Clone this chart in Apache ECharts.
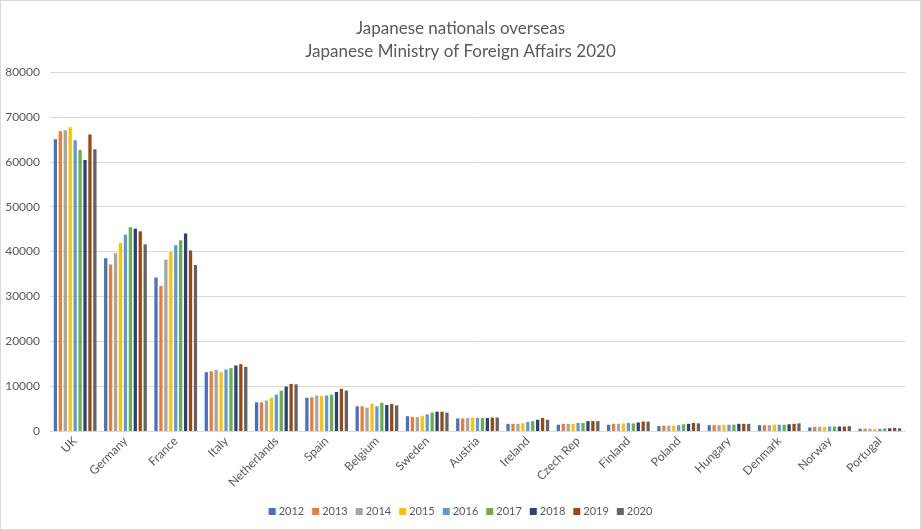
<!DOCTYPE html>
<html>
<head>
<meta charset="utf-8">
<script src="https://cdn.jsdelivr.net/npm/echarts@6/dist/echarts.min.js"></script>
<style>
  html, body { margin: 0; padding: 0; background: #fff; }
  #wrap { width: 921px; height: 530px; box-sizing: border-box; border: 1px solid #d9d9d9; }
  #main { width: 919px; height: 528px; }
</style>
</head>
<body>
<div id="wrap"><div id="main"></div></div>
<script>
// years (series) and countries (categories)
var years = ['2012', '2013', '2014', '2015', '2016', '2017', '2018', '2019', '2020']
var countries = ['UK', 'Germany', 'France', 'Italy', 'Netherlands', 'Spain', 'Belgium', 'Sweden', 'Austria',
  'Ireland', 'Czech Rep', 'Finland', 'Poland', 'Hungary', 'Denmark', 'Norway', 'Portugal']

// values per country, 2012 -> 2020
var uk = [65000, 66800, 67000, 67700, 64800, 62600, 60400, 66100, 62800]
var germany = [38500, 37100, 39600, 41900, 43800, 45400, 45100, 44500, 41600]
var france = [34200, 32300, 38200, 39900, 41400, 42500, 44000, 40200, 37000]
var italy = [13100, 13300, 13600, 13100, 13700, 14000, 14600, 14900, 14300]
var netherlands = [6400, 6400, 6800, 7400, 8100, 9000, 9900, 10500, 10400]
var spain = [7400, 7500, 7900, 7800, 7900, 8100, 8700, 9400, 9000]
var belgium = [5500, 5500, 5200, 6100, 5500, 6300, 5800, 6000, 5700]
var sweden = [3300, 3100, 3100, 3400, 3700, 4100, 4300, 4300, 4100]
var austria = [2800, 2800, 2900, 3000, 2900, 2900, 2900, 3000, 3000]
var ireland = [1600, 1600, 1600, 1700, 2000, 2200, 2500, 2900, 2500]
var czech = [1400, 1600, 1600, 1600, 1800, 1800, 2200, 2200, 2200]
var finland = [1400, 1600, 1600, 1700, 1800, 1700, 1900, 2100, 2100]
var poland = [1100, 1200, 1200, 1200, 1300, 1500, 1600, 1800, 1700]
var hungary = [1300, 1300, 1300, 1300, 1400, 1400, 1600, 1600, 1600]
var denmark = [1300, 1300, 1300, 1400, 1400, 1400, 1500, 1600, 1700]
var norway = [800, 900, 900, 900, 1000, 1000, 1000, 1000, 1100]
var portugal = [500, 500, 500, 500, 500, 600, 600, 700, 600]

var byCountry = [uk, germany, france, italy, netherlands, spain, belgium, sweden, austria,
  ireland, czech, finland, poland, hungary, denmark, norway, portugal]

var colorList = ['#4472C4', '#ED7D31', '#A5A5A5', '#FFC000', '#5B9BD5', '#70AD47', '#264478', '#9E480E', '#636363']
var font = 'Lato, "Open Sans", sans-serif'

var myChart = echarts.init(document.getElementById('main'))
myChart.setOption({
  animation: false,
  color: colorList,
  title: {
    text: 'Japanese nationals overseas\nJapanese Ministry of Foreign Affairs 2020',
    left: 'center',
    top: 11,
    textStyle: {
      fontFamily: font,
      fontSize: 17,
      fontWeight: 'normal',
      color: '#595959',
      lineHeight: 23
    }
  },
  legend: {
    bottom: 7,
    left: 'center',
    itemWidth: 7,
    itemHeight: 7,
    itemGap: 8,
    icon: 'rect',
    textStyle: { fontFamily: font, fontSize: 11, color: '#595959', padding: [0, 0, 0, -2] },
    data: years
  },
  grid: {
    left: 49,
    right: 15,
    top: 71,
    bottom: 98
  },
  xAxis: {
    type: 'category',
    data: countries,
    axisLine: { lineStyle: { color: '#d9d9d9' } },
    axisTick: { show: false },
    axisLabel: {
      rotate: 45,
      interval: 0,
      margin: 8,
      fontFamily: font,
      fontSize: 12,
      color: '#595959'
    }
  },
  yAxis: {
    type: 'value',
    min: 0,
    max: 80000,
    interval: 10000,
    axisLine: { show: false },
    axisTick: { show: false },
    splitLine: { lineStyle: { color: '#d9d9d9' } },
    axisLabel: {
      margin: 10,
      fontFamily: font,
      fontSize: 12,
      color: '#595959',
      formatter: function (v) { return String(v) }
    }
  },
  series: years.map(function (y, i) {
    return {
      name: y,
      type: 'bar',
      barGap: '50%',
      barCategoryGap: '15%',
      data: byCountry.map(function (c) { return c[i] })
    }
  })
})
</script>
</body>
</html>
